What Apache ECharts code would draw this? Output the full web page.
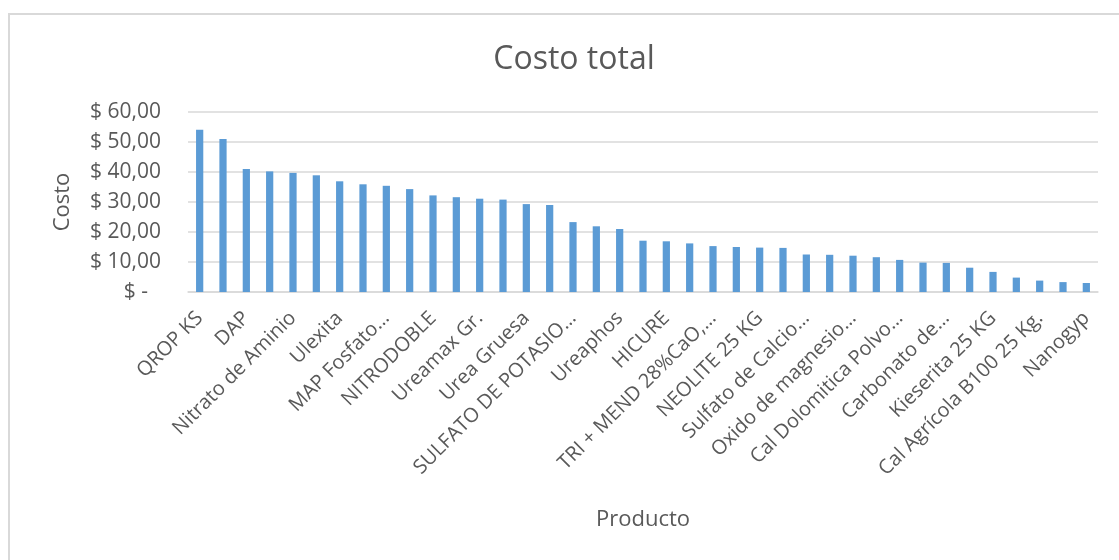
<!DOCTYPE html>
<html>
<head>
<meta charset="utf-8">
<script src="https://cdn.jsdelivr.net/npm/echarts@6/dist/echarts.min.js"></script>
<style>
html,body{margin:0;padding:0;background:#fff;}
#c{width:1119px;height:560px;}
</style>
</head>
<body>
<div id="c"></div>
<script>
// Categories (every other label is hidden by the axis, as in the reference)
const categories = [
  "QROP KS", "(producto 2)", "DAP", "(producto 4)", "Nitrato de Aminio", "(producto 6)",
  "Ulexita", "(producto 8)", "MAP Fosfato…", "(producto 10)", "NITRODOBLE", "(producto 12)",
  "Ureamax Gr.", "(producto 14)", "Urea Gruesa", "(producto 16)", "SULFATO DE POTASIO…", "(producto 18)",
  "Ureaphos", "(producto 20)", "HICURE", "(producto 22)", "TRI + MEND 28%CaO,…", "(producto 24)",
  "NEOLITE 25 KG", "(producto 26)", "Sulfato de Calcio…", "(producto 28)", "Oxido de magnesio…", "(producto 30)",
  "Cal Dolomitica Polvo…", "(producto 32)", "Carbonato de…", "(producto 34)", "Kieserita 25 KG", "(producto 36)",
  "Cal Agrícola B100 25 Kg.", "(producto 38)", "Nanogyp"
];
const costo = [
  54.1, 51.0, 41.0, 40.2, 39.7, 38.9, 36.9, 35.9, 35.4, 34.3,
  32.2, 31.6, 31.1, 30.8, 29.3, 29.0, 23.3, 21.9, 21.0, 17.1,
  16.9, 16.2, 15.3, 15.0, 14.8, 14.7, 12.5, 12.4, 12.1, 11.6,
  10.7, 9.8, 9.7, 8.1, 6.7, 4.8, 3.8, 3.3, 3.0
];
const title = "Costo total";
const yName = "Costo";
const xName = "Producto";

const FONT = "Open Sans";
const GREY = "#595959";

const chart = echarts.init(document.getElementById('c'), null, {renderer: 'canvas'});
chart.setOption({
  animation: false,
  backgroundColor: '#ffffff',
  textStyle: {fontFamily: FONT},
  graphic: [{
    type: 'rect',
    shape: {x: 9, y: 14, width: 1200, height: 700},
    style: {fill: 'none', stroke: '#D9D9D9', lineWidth: 2},
    silent: true
  }],
  title: {
    text: title,
    left: 569,
    top: 39,
    textAlign: 'center',
    textStyle: {fontFamily: FONT, fontSize: 32, fontWeight: 'normal', color: GREY}
  },
  grid: {left: 188, right: 21, top: 112, bottom: 268, containLabel: false},
  xAxis: {
    type: 'category',
    data: categories,
    name: xName,
    nameLocation: 'middle',
    nameGap: 217,
    nameTextStyle: {fontFamily: FONT, fontSize: 22, color: GREY},
    axisLine: {show: true, lineStyle: {color: '#D9D9D9', width: 1.5}},
    axisTick: {show: false},
    axisLabel: {
      interval: 1,
      rotate: 45,
      margin: 23,
      fontFamily: FONT,
      fontSize: 20,
      color: GREY
    }
  },
  yAxis: {
    type: 'value',
    min: 0,
    max: 60,
    interval: 10,
    name: yName,
    nameLocation: 'middle',
    nameGap: 114,
    nameRotate: 90,
    nameTextStyle: {fontFamily: FONT, fontSize: 22, color: GREY},
    axisLine: {show: false},
    axisTick: {show: false},
    splitLine: {lineStyle: {color: '#D9D9D9', width: 1.5}},
    axisLabel: {
      margin: 27,
      fontFamily: FONT,
      fontSize: 21,
      color: GREY,
      formatter: function (v) {
        if (v === 0) return '{z|$ -}';
        return '$ ' + v.toFixed(2).replace('.', ',');
      },
      rich: {z: {fontFamily: FONT, fontSize: 21, color: GREY, padding: [0, 13, 0, 0]}}
    }
  },
  series: [{
    type: 'bar',
    data: costo,
    barWidth: '31%',
    itemStyle: {color: '#5B9BD5'}
  }]
});
</script>
</body>
</html>
